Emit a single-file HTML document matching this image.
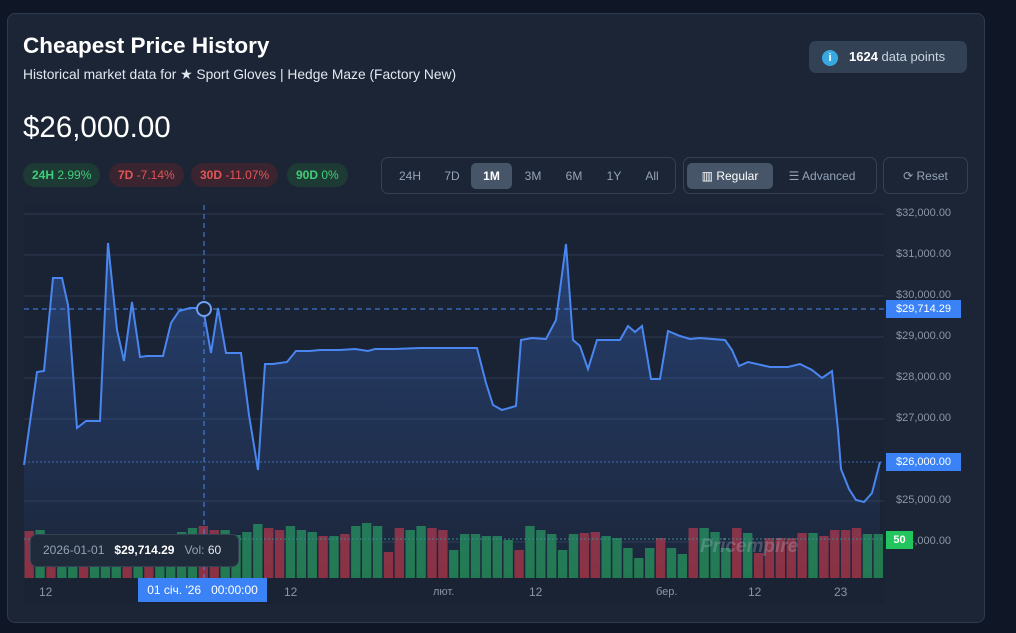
<!DOCTYPE html><html><head><meta charset="utf-8"><style>
body{margin:0;width:1016px;height:633px;background:#0f1626;font-family:"Liberation Sans",sans-serif;overflow:hidden;position:relative}
.card{position:absolute;left:7px;top:13px;width:976px;height:608px;background:#1c2535;border:1px solid #2e3a4e;border-radius:8px}
.a{position:absolute;white-space:nowrap}
.pill{position:absolute;top:163px;height:24px;border-radius:12px;font-size:12px;line-height:24px;padding:0 9px}
.g{background:#1d3a34;color:#3fcf7a}.r{background:#3a2430;color:#e25555}
.grp{position:absolute;top:157px;height:37px;border:1px solid #334155;border-radius:7px;box-sizing:border-box}
.btn{position:absolute;top:5px;height:26px;line-height:26px;font-size:12px;color:#94a3b8;text-align:center}
.yl{position:absolute;left:896px;font-size:11px;color:#8a95a8}
</style></head><body>
<div class="card"></div>
<div class="a" style="left:23px;top:33px;font-size:22.5px;font-weight:bold;color:#fff">Cheapest Price History</div>
<div class="a" style="left:23px;top:67px;font-size:13.8px;color:#e2e8f0">Historical market data for ★ Sport Gloves | Hedge Maze (Factory New)</div>
<div class="a" style="left:809px;top:41px;width:158px;height:32px;background:#334155;border-radius:7px"></div>
<div class="a" style="left:822px;top:50px;width:16px;height:16px;border-radius:8px;background:#38a8e0;color:#fff;font-size:11px;font-weight:bold;text-align:center;line-height:16px">i</div>
<div class="a" style="left:849px;top:49px;font-size:13px;color:#cbd5e1"><b style="color:#fff">1624</b> data points</div>
<div class="a" style="left:23px;top:111px;font-size:29.5px;color:#fff">$26,000.00</div>
<div class="pill g" style="left:23px"><b>24H</b> 2.99%</div>
<div class="pill r" style="left:109px"><b>7D</b> -7.14%</div>
<div class="pill r" style="left:191px"><b>30D</b> -11.07%</div>
<div class="pill g" style="left:287px"><b>90D</b> 0%</div>
<div class="grp" style="left:381px;width:295px">
<div class="btn" style="left:8px;width:40px">24H</div><div class="btn" style="left:50px;width:40px">7D</div>
<div class="btn" style="left:89px;width:41px;background:#475569;color:#fff;border-radius:5px;font-weight:bold">1M</div>
<div class="btn" style="left:131px;width:40px">3M</div><div class="btn" style="left:172px;width:40px">6M</div><div class="btn" style="left:212px;width:40px">1Y</div><div class="btn" style="left:250px;width:40px">All</div></div>
<div class="grp" style="left:683px;width:194px">
<div class="btn" style="left:3px;width:86px;background:#475569;color:#fff;border-radius:5px">▥ Regular</div>
<div class="btn" style="left:95px;width:86px">☰ Advanced</div></div>
<div class="grp" style="left:883px;width:85px"><div class="btn" style="left:0;width:83px">⟳ Reset</div></div>
<div class="a" style="left:24px;top:205px;width:860px;height:373px;background:#1a2334;border-radius:6px"></div>
<svg class="a" style="left:0;top:0" width="1016" height="633">
<defs><linearGradient id="f" x1="0" y1="0" x2="0" y2="1"><stop offset="0" stop-color="#3b6fd0" stop-opacity=".4"/><stop offset="1" stop-color="#3b6fd0" stop-opacity=".03"/></linearGradient></defs>
<g stroke="#2c3a50" stroke-width="1">
<line x1="24" x2="884" y1="214" y2="214"/><line x1="24" x2="884" y1="255" y2="255"/><line x1="24" x2="884" y1="296" y2="296"/><line x1="24" x2="884" y1="337" y2="337"/><line x1="24" x2="884" y1="378" y2="378"/><line x1="24" x2="884" y1="419" y2="419"/><line x1="24" x2="884" y1="501" y2="501"/><line x1="24" x2="884" y1="542" y2="542"/></g>
<g id="vol"></g>
<polygon id="area" fill="url(#f)"/>
<polyline id="ln" fill="none" stroke="#4a86f0" stroke-width="2"/>
<line x1="24" x2="884" y1="462" y2="462" stroke="#4a86f0" stroke-dasharray="2 2" opacity=".7"/>
<line x1="24" x2="884" y1="309" y2="309" stroke="#4a86f0" stroke-dasharray="5 4"/>
<line x1="204" x2="204" y1="205" y2="578" stroke="#4a86f0" stroke-dasharray="5 4"/>
<line x1="24" x2="884" y1="539" y2="539" stroke="#3a8a8a" stroke-dasharray="2 2"/>
<circle cx="204" cy="309" r="7" fill="#1a2334" stroke="#6ea0f5" stroke-width="2"/>
</svg>
<div class="yl" style="top:207px">$32,000.00</div><div class="yl" style="top:248px">$31,000.00</div><div class="yl" style="top:289px">$30,000.00</div><div class="yl" style="top:330px">$29,000.00</div><div class="yl" style="top:371px">$28,000.00</div><div class="yl" style="top:412px">$27,000.00</div><div class="yl" style="top:494px">$25,000.00</div><div class="yl" style="top:535px">$24,000.00</div>
<div class="a" style="left:886px;top:300px;width:75px;height:18px;background:#3b82f6;color:#fff;font-size:11px;line-height:18px;text-align:center">$29,714.29</div>
<div class="a" style="left:886px;top:453px;width:75px;height:18px;background:#3b82f6;color:#fff;font-size:11px;line-height:18px;text-align:center">$26,000.00</div>
<div class="a" style="left:886px;top:531px;width:27px;height:18px;background:#22c55e;color:#fff;font-size:11px;font-weight:bold;line-height:18px;text-align:center">50</div>
<div class="a" style="left:700px;top:536px;font-size:19px;font-weight:bold;font-style:italic;color:rgba(200,210,225,.25)">Pricempire</div>
<div class="a" style="left:30px;top:534px;width:207px;height:31px;background:#1f2a3a;border:1px solid #334155;border-radius:7px;font-size:12px;line-height:31px;color:#94a3b8;text-indent:12px">2026-01-01 &nbsp; <b style="color:#fff">$29,714.29</b> &nbsp; Vol: <span style="color:#e2e8f0">60</span></div>
<div class="a" style="left:24px;top:578px;width:860px;height:26px;background:#1a2334"></div>
<div class="a" style="left:138px;top:578px;width:129px;height:24px;background:#3b82f6;color:#fff;font-size:12px;line-height:24px;text-align:center">01 січ. '26 &nbsp; 00:00:00</div>
<div class="a" style="left:39px;top:585px;font-size:12px;color:#8a95a8">12</div>
<div class="a" style="left:284px;top:585px;font-size:12px;color:#8a95a8">12</div>
<div class="a" style="left:433px;top:586px;font-size:11px;color:#8a95a8">лют.</div>
<div class="a" style="left:529px;top:585px;font-size:12px;color:#8a95a8">12</div>
<div class="a" style="left:656px;top:586px;font-size:11px;color:#8a95a8">бер.</div>
<div class="a" style="left:748px;top:585px;font-size:12px;color:#8a95a8">12</div>
<div class="a" style="left:834px;top:585px;font-size:12px;color:#8a95a8">23</div>
<script>
var p=[[24,465],[37,372],[44,371],[53,278],[62,278],[68,305],[77,428],[86,421],[100,421],[108,243],[117,330],[124,361],[132,302],[140,357],[147,356],[163,356],[171,323],[179,311],[190,308],[203,308],[211,353],[218,308],[226,353],[241,353],[249,415],[258,470],[265,364],[273,364],[287,362],[296,351],[310,351],[320,350],[340,350],[355,349],[368,351],[375,349],[395,349],[420,348],[477,348],[486,383],[493,405],[502,410],[516,406],[521,340],[532,338],[546,339],[556,320],[566,244],[573,340],[580,346],[588,369],[597,340],[620,340],[628,326],[635,332],[642,326],[651,379],[660,379],[668,331],[680,336],[690,339],[700,338],[712,339],[725,340],[732,350],[739,366],[748,362],[770,367],[788,367],[800,364],[812,370],[822,378],[832,371],[838,430],[841,469],[849,489],[856,500],[864,502],[872,493],[880,462]];
var s=p.map(function(a){return a.join(',')}).join(' ');
document.getElementById('ln').setAttribute('points',s);
document.getElementById('area').setAttribute('points',s+' 880,578 24,578');
var h=[47,48,35,35,35,35,35,36,35,35,35,35,42,44,46,50,52,48,48,43,46,54,50,48,52,48,46,42,42,44,52,55,52,26,50,48,52,50,48,28,44,44,42,42,38,28,52,48,44,28,44,45,46,42,40,30,20,30,40,30,24,50,50,46,30,50,45,25,40,40,40,45,45,42,48,48,50,44,44];
var c="rgrggrgggrgrggggrrggggrrgggrgrgggrrggrrggggggrgggggrrgggggrggrgggrgrrrrrgrrrrg";
var g='',n=h.length,w=860/n;
for(var i=0;i<n;i++){g+='<rect x="'+(24+i*w+0.5)+'" y="'+(578-h[i])+'" width="'+(w-1.5)+'" height="'+h[i]+'" fill="'+(c[i]=='r'?'#8e2f3f':'#227a4e')+'"/>';}
document.getElementById('vol').innerHTML=g;
</script>
</body></html>
